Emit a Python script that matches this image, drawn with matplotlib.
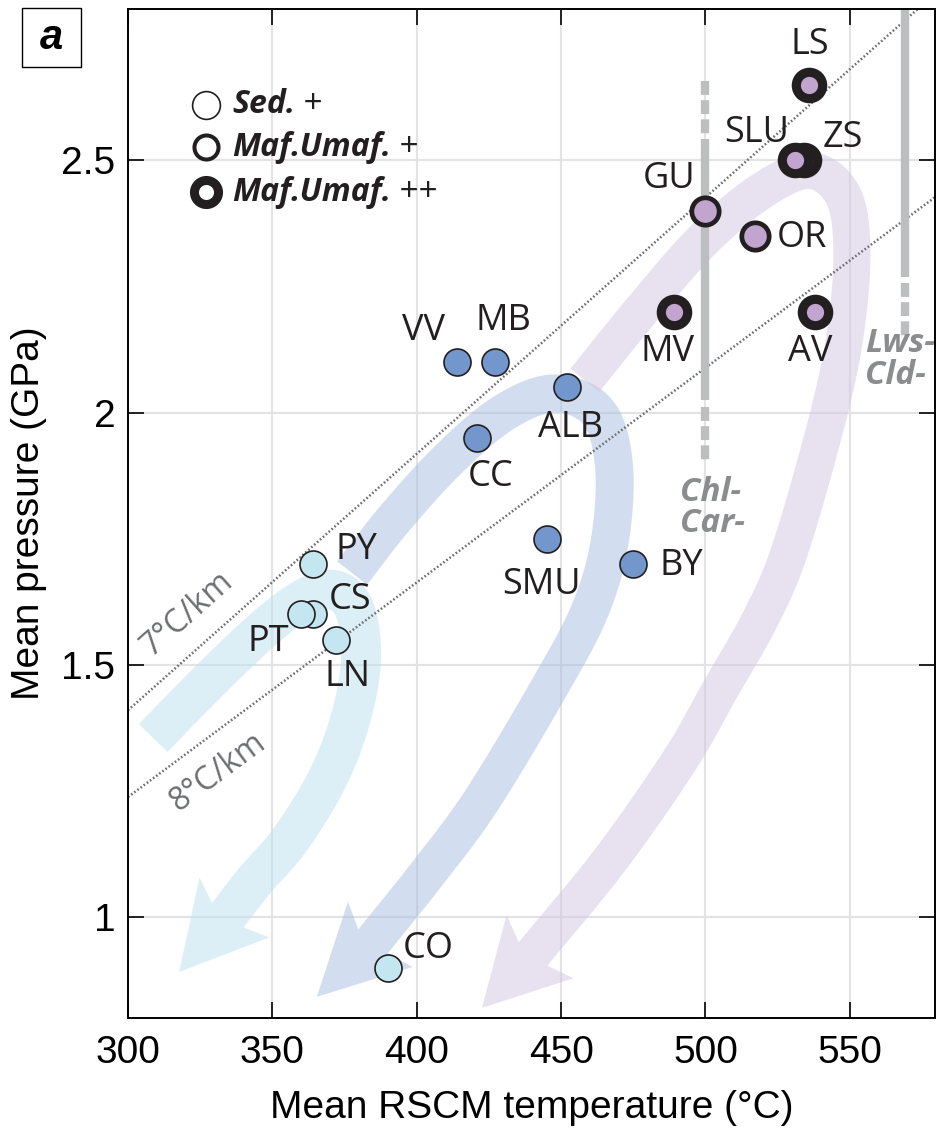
import numpy as np
import matplotlib
matplotlib.use("Agg")
import matplotlib.pyplot as plt
from matplotlib.patches import Polygon, Rectangle
from matplotlib.ticker import FuncFormatter

plt.rcParams['lines.scale_dashes'] = False

# --- sample data: mean RSCM temperature (°C) and mean pressure (GPa)
sed_names = ["PY", "CS", "PT", "LN", "CO"]
sed_temp = [364, 364, 360, 372, 390]
sed_pres = [1.70, 1.60, 1.60, 1.55, 0.90]

mid_names = ["VV", "MB", "ALB", "CC", "SMU", "BY"]
mid_temp = [414, 427, 452, 421, 445, 475]
mid_pres = [2.10, 2.10, 2.05, 1.95, 1.75, 1.70]

maf_names = ["GU", "OR"]
maf_temp = [500, 517]
maf_pres = [2.40, 2.35]

umaf_names = ["LS", "ZS", "SLU", "MV", "AV"]
umaf_temp = [536, 534, 531, 489, 538]
umaf_pres = [2.65, 2.50, 2.50, 2.20, 2.20]

# label offsets in pixels (dx, dy)
label_off = {
    "PY": (44, 14), "CS": (37, 14), "PT": (-33, -28), "LN": (12, -37), "CO": (40, 19),
    "VV": (-34, 31), "MB": (9, 41), "ALB": (4, -41), "CC": (13, -39), "SMU": (-5, -46),
    "BY": (48, -2), "GU": (-36, 32), "OR": (47, -2), "LS": (0, 40), "ZS": (39, 22),
    "SLU": (-38, 27), "MV": (-6, -40), "AV": (-5, -40),
}

# geotherms: (T, P) at two ends
geo7_t = [300, 573.5]
geo7_p = [1.41, 2.80]
geo8_t = [300, 579.5]
geo8_p = [1.238, 2.427]

# schematic P-T paths (centre line, last point = arrow tip)
path_cyan = [(308.7, 1.355), (328.4, 1.470), (347.4, 1.573), (361.3, 1.632), (371.7, 1.648),
             (378.6, 1.608), (380.7, 1.509), (376.9, 1.390), (368.9, 1.272), (356.1, 1.153),
             (344.0, 1.073), (334.6, 1.004), (317.7, 0.891)]
path_blue = [(377.6, 1.682), (392.5, 1.791), (411.5, 1.910), (430.5, 2.001), (447.9, 2.038),
             (462.7, 2.001), (468.3, 1.896), (466.9, 1.747), (460.0, 1.608), (445.4, 1.450),
             (422.5, 1.232), (404.6, 1.093), (384.9, 0.952), (365.4, 0.842)]
path_purple = [(458.2, 2.064), (477.3, 2.199), (498.1, 2.336), (518.8, 2.437), (536.1, 2.480),
               (547.6, 2.431), (550.7, 2.322), (548.6, 2.163), (542.4, 1.991), (529.2, 1.727),
               (518.8, 1.589), (505.0, 1.450), (491.1, 1.311), (466.9, 1.113), (440.3, 0.927),
               (422.6, 0.820)]

INK = "#231f20"
C_SED = "#c4e6f0"
C_MID = "#7396cd"
C_MAF = "#c2a5cf"


def catmull_rom(p, n=24):
    p = np.asarray(p, float)
    ext = np.vstack([2 * p[0] - p[1], p, 2 * p[-1] - p[-2]])
    out = []
    for i in range(1, len(ext) - 2):
        p0, p1, p2, p3 = ext[i - 1], ext[i], ext[i + 1], ext[i + 2]
        for t in np.linspace(0, 1, n, endpoint=False):
            t2, t3 = t * t, t * t * t
            out.append(0.5 * (2 * p1 + (-p0 + p2) * t + (2 * p0 - 5 * p1 + 4 * p2 - p3) * t2
                              + (-p0 + 3 * p1 - 3 * p2 + p3) * t3))
    out.append(p[-1])
    return np.array(out)


def band_arrow(ax, pts, color, width=39, head_hw=46, head_back=10):
    disp = ax.transData.transform(np.array(pts))
    tip = disp[-1]
    c = catmull_rom(disp[:-1])
    tang = np.gradient(c, axis=0)
    tang /= np.linalg.norm(tang, axis=1)[:, None]
    nrm = np.column_stack([-tang[:, 1], tang[:, 0]])
    left = c + nrm * width / 2
    right = c - nrm * width / 2
    base = c[-1]
    d = (tip - base) / np.linalg.norm(tip - base)
    n = np.array([-d[1], d[0]])
    wl = base + n * head_hw - d * head_back
    wr = base - n * head_hw - d * head_back
    poly = np.vstack([left, wl, tip, wr, right[::-1]])
    poly = ax.transData.inverted().transform(poly)
    ax.add_patch(Polygon(poly, closed=True, facecolor=color, edgecolor="none",
                         alpha=0.5, zorder=1))


fig = plt.figure(figsize=(9.38, 11.36), dpi=100)
ax = fig.add_axes([128 / 938, 1 - 1018 / 1136, 807 / 938, 1009 / 1136])
ax.set_xlim(300, 579.5)
ax.set_ylim(0.8, 2.8)

ax.set_xticks([300, 350, 400, 450, 500, 550])
ax.set_yticks([1, 1.5, 2, 2.5])
ax.yaxis.set_major_formatter(FuncFormatter(lambda v, p: "%g" % v))
ax.tick_params(direction="in", length=11.5, width=1.2, top=True, right=True,
               labelsize=28, pad=9, colors="black")
for lab in ax.get_xticklabels() + ax.get_yticklabels():
    lab.set_fontfamily("Liberation Sans")
ax.tick_params(axis="x", pad=12)
for s in ax.spines.values():
    s.set_linewidth(1.4)
ax.grid(True, color="#e3e3e3", lw=1.5, zorder=0)
ax.set_axisbelow(True)

ax.set_xlabel("Mean RSCM temperature (°C)", fontsize=28, family="Liberation Sans", labelpad=14)
ax.set_ylabel("Mean pressure (GPa)", fontsize=28, family="Liberation Sans", labelpad=10)

# P-T path bands
band_arrow(ax, path_cyan, (189 / 255, 225 / 255, 239 / 255), width=40)
band_arrow(ax, path_blue, (167 / 255, 191 / 255, 225 / 255), width=38)
band_arrow(ax, path_purple, (211 / 255, 197 / 255, 225 / 255), width=37)

# geotherms
for gt, gp, txt, pos in [(geo7_t, geo7_p, "7°C/km", (320.4, 1.602)),
                         (geo8_t, geo8_p, "8°C/km", (331.2, 1.287))]:
    ax.plot(gt, gp, color="#6d6e71", lw=1.8, ls=(0, (1.2, 1.6)), zorder=2)
    a, b = ax.transData.transform([(gt[0], gp[0]), (gt[1], gp[1])])
    ang = np.degrees(np.arctan2(b[1] - a[1], b[0] - a[0]))
    ax.text(pos[0], pos[1], txt, rotation=ang, rotation_mode="anchor", ha="center",
            va="center", fontsize=23, color="#6d6e71", family="Open Sans", zorder=2)

# reaction lines
bar = dict(color="#bcbec0", lw=6, solid_capstyle="butt", zorder=2)
dash = dict(color="#bcbec0", lw=6, ls=(0, (10, 3.8)), dash_capstyle="butt", zorder=2)
ax.plot([500, 500], [2.025, 2.542], **bar)
ax.plot([500, 500], [2.658, 2.553], **dash)
ax.plot([500, 500], [2.011, 1.904], **dash)
ax.plot([569, 569], [2.85, 2.268], **bar)
ax.plot([569, 569], [2.256, 2.151], **dash)
ax.text(491.1, 1.875, "Chl-\nCar-", fontsize=24, color="#8a8c8e", family="Open Sans",
        style="italic", weight="bold", ha="left", va="top", linespacing=0.95, zorder=2)
ax.text(555.2, 2.17, "Lws-\nCld-", fontsize=24, color="#8a8c8e", family="Open Sans",
        style="italic", weight="bold", ha="left", va="top", linespacing=0.95, zorder=2)

# samples
ax.scatter(sed_temp, sed_pres, s=378, c=C_SED, edgecolors=INK, linewidths=1.2, zorder=4)
ax.scatter(mid_temp, mid_pres, s=378, c=C_MID, edgecolors=INK, linewidths=1.2, zorder=4)
ax.scatter(maf_temp, maf_pres, s=388, c=C_MAF, edgecolors=INK, linewidths=3.4, zorder=4)
for t, p in zip(umaf_temp, umaf_pres):
    ax.scatter([t], [p], s=361, c=C_MAF, edgecolors=INK, linewidths=6.6, zorder=4)

for names, ts, ps in [(sed_names, sed_temp, sed_pres), (mid_names, mid_temp, mid_pres),
                      (maf_names, maf_temp, maf_pres), (umaf_names, umaf_temp, umaf_pres)]:
    for nm, t, p in zip(names, ts, ps):
        ax.annotate(nm, (t, p), xytext=label_off[nm], textcoords="offset pixels",
                    ha="center", va="center", fontsize=26, color=INK, family="Open Sans",
                    zorder=5)

# legend (drawn by hand)
leg_items = [("Sed.", " +", 1.2, 400), ("Maf.Umaf.", " +", 2.9, 300), ("Maf.Umaf.", " ++", 6.5, 300)]
leg_y = [0.9049, 0.8632, 0.8186]
for (bold, rest, lw, s), y in zip(leg_items, leg_y):
    ax.scatter([0.0967], [y], s=s, facecolor="white", edgecolors=INK, linewidths=lw,
               transform=ax.transAxes, zorder=6, clip_on=False)
    t = ax.text(0.1289, y, bold, transform=ax.transAxes, fontsize=23, family="Open Sans",
                style="italic", weight="bold", color=INK, va="center", ha="left", zorder=6)
    ax.annotate(rest, xy=(1, 0.5), xycoords=t, va="center", ha="left", fontsize=24,
                family="Open Sans", color=INK, zorder=6)

# panel tag
fig.patches.append(Rectangle((22 / 938, 1 - 67 / 1136), 59 / 938, 59 / 1136,
                             transform=fig.transFigure, facecolor="white",
                             edgecolor="black", lw=1.0))
fig.text(51.5 / 938, 1 - 38 / 1136, "a", fontsize=30, family="Liberation Sans",
         weight="bold", style="italic", ha="center", va="center")

fig.savefig("out.png", dpi=100)
